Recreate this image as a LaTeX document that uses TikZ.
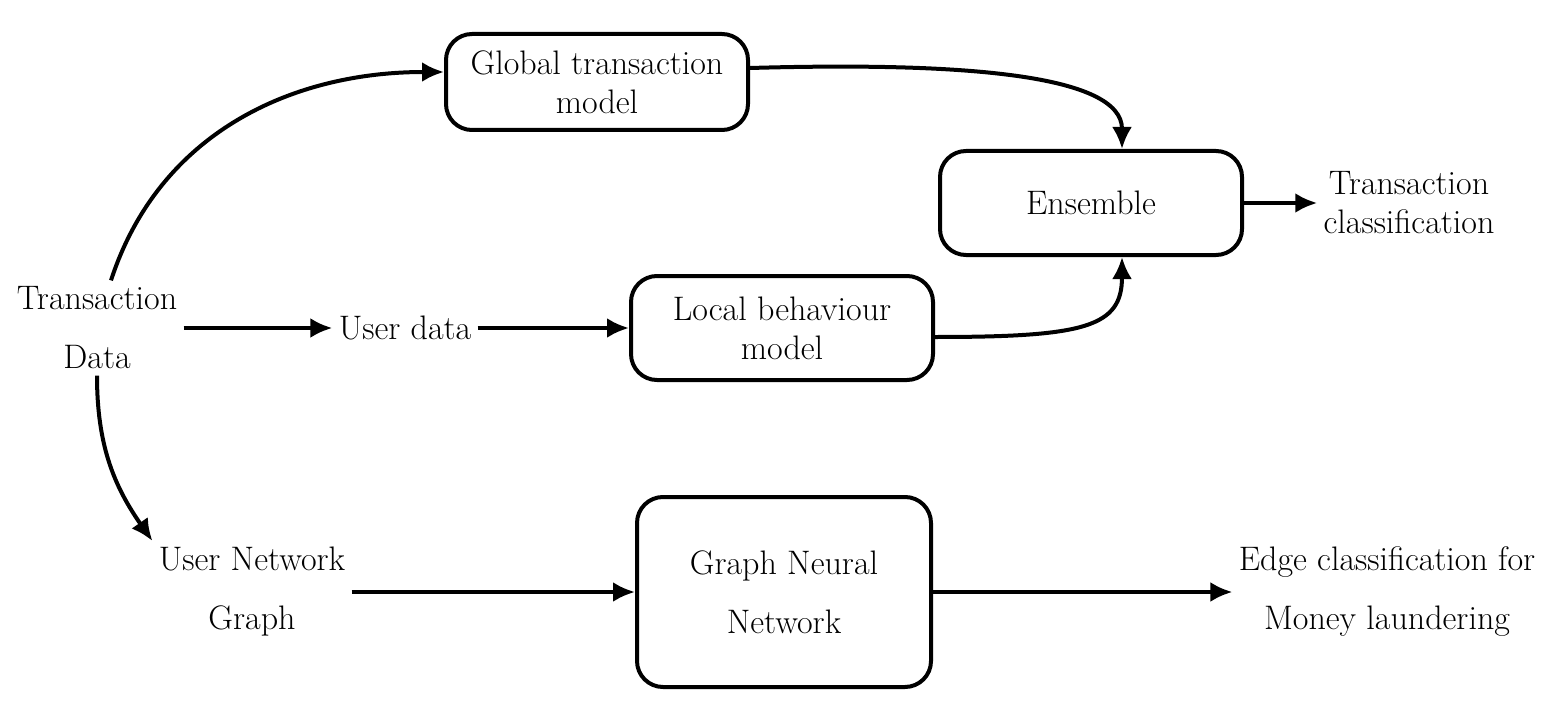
\documentclass[tikz,border=0pt]{standalone}
\usepackage{fontspec}
\usetikzlibrary{arrows.meta, positioning}

\tikzset{
  block/.style={draw, line width=2pt, rounded corners=13pt, align=center,
    minimum width=151pt, inner sep=2pt},
  label/.style={align=center, inner sep=3pt},
  flow/.style={->, line width=2pt},
}

\begin{document}
\begin{tikzpicture}[>={Latex[length=11pt,width=10pt]}, x=0.5pt, y=-0.5pt,
  font=\fontsize{17}{19.5}\selectfont]

\useasboundingbox (0,0) rectangle (1551,711);

% boxes
\node[block, minimum height=48pt] (glob) at (597,82) {Global transaction\\model};
\node[block, minimum height=52pt] (ens) at (1091,203) {Ensemble};
\node[block, minimum height=52pt] (loc) at (782,328) {Local behaviour\\model};
\node[block, minimum height=95pt, minimum width=147pt] (gnn) at (784,592) {Graph Neural\\[10pt]Network};

% plain labels
\node[label] (txn) at (97,328) {Transaction\\[10pt]Data};
\node[label] (udata) at (405,328) {User data};
\node[label] (unet) at (252,592) {User Network\\[10pt]Graph};
\node[label] (tcls) at (1409,203) {Transaction\\classification};
\node[label] (edge) at (1387,592) {Edge classification for\\[10pt]Money laundering};

% connectors
\draw[flow] ([xshift=7pt]txn.north) to[out=72,in=180] ([yshift=5pt]glob.west);
\draw[flow] ([yshift=7pt]glob.east) .. controls +(210,-6) and +(0,-75) .. ([xshift=15.5pt]ens.north);
\draw[flow] ([yshift=-4.5pt]loc.east) .. controls +(150,0) and +(0,70) .. ([xshift=15.5pt]ens.south);
\draw[flow] (ens.east) -- (tcls.west);

\draw[flow] (txn.east) -- (udata.west);
\draw[flow] (udata.east) -- (loc.west);

\draw[flow] (txn.south) to[out=-90,in=125] (unet.north west);
\draw[flow] (unet.east) -- (gnn.west);
\draw[flow] (gnn.east) -- (edge.west);

\end{tikzpicture}
\end{document}
